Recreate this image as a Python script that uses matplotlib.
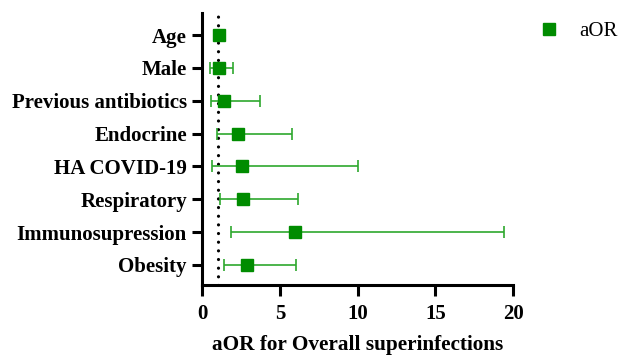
import matplotlib
matplotlib.use("Agg")
import matplotlib.pyplot as plt

# Adjusted odds ratios with 95% confidence intervals
factors = ["Age", "Male", "Previous antibiotics", "Endocrine",
           "HA COVID-19", "Respiratory", "Immunosupression", "Obesity"]
aor = [1.1, 1.05, 1.42, 2.32, 2.57, 2.64, 5.98, 2.89]
ci_low = [1.02, 0.5, 0.54, 0.93, 0.64, 1.14, 1.82, 1.37]
ci_high = [1.18, 2.0, 3.71, 5.79, 10.01, 6.15, 19.4, 6.05]
x_ticks = [0, 5, 10, 15, 20]

plt.rcParams["font.family"] = ["Liberation Serif", "DejaVu Serif"]

fig = plt.figure(figsize=(6.32, 3.62), dpi=100)
ax = fig.add_axes([0.32, 0.213, 0.492, 0.751])

green = "#008c00"
ypos = list(range(len(factors), 0, -1))
err_lo = [a - l for a, l in zip(aor, ci_low)]
err_hi = [h - a for a, h in zip(aor, ci_high)]

ax.errorbar(aor, ypos, xerr=[err_lo, err_hi], fmt="none",
            ecolor="#2ea82e", elinewidth=1.2, capsize=4, capthick=1.2, zorder=2)
ax.plot(aor, ypos, linestyle="none", marker="s", markersize=8,
        color=green, label="aOR", zorder=3)

ax.axvline(1, color="black", linestyle=(0, (0.01, 2.7)), linewidth=2.3,
           dash_capstyle="round", zorder=1)

ax.set_xlim(0, 20)
ax.set_ylim(0.39, 8.67)
ax.set_xticks(x_ticks)
ax.set_yticks(ypos)
ax.set_yticklabels(factors)

for lbl in ax.get_yticklabels() + ax.get_xticklabels():
    lbl.set_fontweight("bold")
    lbl.set_fontsize(15)

ax.set_xlabel("aOR for Overall superinfections", fontsize=15.3,
              fontweight="bold", labelpad=8)

for side in ("top", "right"):
    ax.spines[side].set_visible(False)
for side in ("left", "bottom"):
    ax.spines[side].set_linewidth(2.2)
ax.tick_params(axis="y", width=2.2, length=7.5, pad=3.5)
ax.tick_params(axis="x", width=2.2, length=8, pad=6)

ax.legend(loc="upper left", bbox_to_anchor=(1.056, 1.0), frameon=False,
          fontsize=15, handlelength=1.0, handletextpad=0.95, borderaxespad=0)

fig.savefig("out.png", dpi=100)
